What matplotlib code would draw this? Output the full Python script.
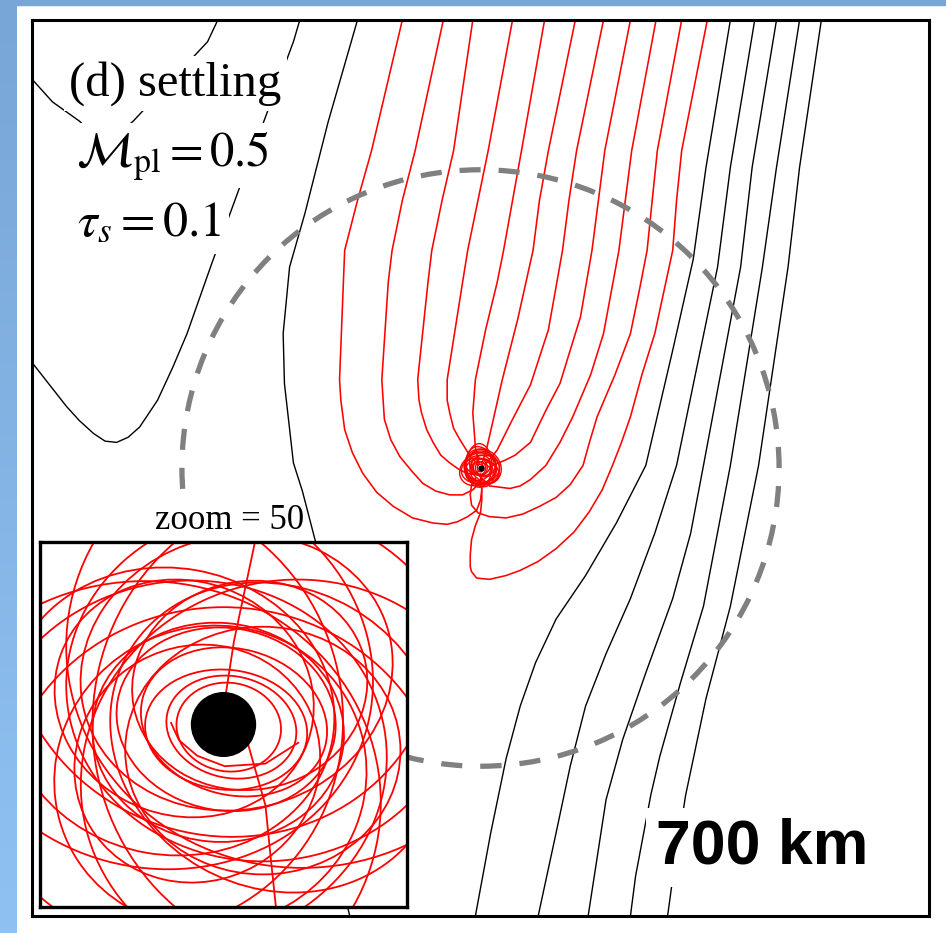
import matplotlib
matplotlib.use("Agg")
import matplotlib.pyplot as plt
import numpy as np
from matplotlib.patches import Circle, Ellipse, Rectangle

plt.rcParams['mathtext.fontset'] = 'stix'

# ---- streamlines, positions in km relative to the planet ----
# black (non-accreted) streamlines
bl1_x = [195, 176, 166, 150, 129, 106, 82, 59, 43, 31, 20, 8, -4]
bl1_y = [350, 235, 163, 92, 2, -43, -84, -118, -152, -186, -227, -285, -350]
bl2_x = [214, 195, 185, 153, 136, 117, 98, 82, 70, 59, 45]
bl2_y = [350, 235, 157, 2, -51, -102, -145, -186, -233, -285, -350]
bl3_x = [231, 212, 203, 174, 164, 150, 129, 111, 98, 84]
bl3_y = [350, 235, 157, 2, -51, -102, -160, -212, -259, -350]
bl4_x = [249, 231, 220, 195, 174, 156, 140, 133, 121, 117]
bl4_y = [350, 235, 157, 2, -108, -168, -225, -255, -319, -350]
bl5_x = [266, 249, 240, 217, 195, 176, 160, 149, 146]
bl5_y = [350, 235, 157, 2, -108, -180, -256, -328, -350]
bld_x = [-96, -119, -137, -149, -154, -153, -146, -139, -125, -114, -107, -104, -102]
bld_y = [350, 270, 199, 157, 105, 66, 4, -18, -72, -181, -275, -342, -350]
blc_x = [-141, -146, -169, -210, -229, -240, -252, -266, -275, -284, -293, -302, -313,
         -323, -352]
blc_y = [350, 333, 271, 159, 105, 79, 53, 32, 24, 20, 21, 27, 37, 48, 85]
blb_x = [-205, -213, -271, -293, -313, -334, -352]
blb_y = [350, 333, 271, 252, 271, 286, 306]

# red (accreted) streamlines
r1_x = [-61, -85, -96, -106, -107, -110, -109, -106, -100, -92, -81, -68, -53, -37, -26,
        -18, -10, -3, 0, 1, 0]
r1_y = [350, 248, 209, 170, 145, 69, 53, 30, 12, -4, -19, -30, -39, -43, -44,
        -42, -38, -33, -25, -17, -5]
r2_x = [-29, -51, -61, -69, -72, -77, -76, -75, -70, -63, -54, -45, -35, -24, -14, -6, -1, 1]
r2_y = [350, 248, 209, 170, 145, 69, 53, 38, 22, 9, -2, -12, -18, -21, -21, -17, -12, -8]
r3_x = [-6, -21, -30, -38, -41, -49, -48, -46, -42, -37, -31, -24, -17, -11, -6, -2]
r3_y = [350, 248, 209, 170, 145, 69, 53, 43, 30, 20, 10, 4, -1, -4, -5, -3]
r4_x = [25, 6, -2, -10, -14, -26, -26, -24, -21, -16, -11, -8, -4, -2]
r4_y = [350, 248, 209, 170, 145, 69, 53, 43, 31, 22, 14, 9, 5, 2]
r5_x = [50, 32, 25, 18, 13, 4, -4, -6, -5, -4, -1]
r5_y = [350, 248, 209, 170, 145, 108, 69, 43, 30, 16, 3]
r6_x = [74, 53, 46, 41, 29, 17, 10, 5, 1]
r6_y = [350, 248, 209, 170, 116, 69, 38, 16, 3]
r7_x = [96, 75, 69, 64, 53, 39, 25, 13, 4]
r7_y = [350, 248, 209, 170, 108, 65, 38, 14, 3]
r8_x = [117, 97, 92, 87, 78, 62, 51, 39, 27, 19, 7]
r8_y = [350, 248, 209, 170, 118, 66, 45, 20, 10, 6, 1]
r9_x = [137, 118, 113, 108, 96, 86, 72, 62, 51, 39, 31, 23, 7, -2]
r9_y = [350, 248, 209, 170, 105, 73, 40, 20, 2, -9, -14, -16, -14, -5]
r10_x = [157, 138, 134, 130, 124, 117, 105, 91, 85, 80, 70, 59, 46, 33, 20, 7, -2, -7,
         -8, -7, -4]
r10_y = [350, 248, 209, 170, 139, 105, 73, 40, 20, 2, -13, -23, -30, -36, -39, -38, -35,
         -29, -21, -13, -8]
r11_x = [177, 157, 153, 150, 136, 126, 117, 110, 103, 95, 85, 73, 59, 45, 31, 20, 7, -3,
         -7, -8, -8, -7, -4, 0, 1, 1, 0]
r11_y = [350, 248, 209, 170, 105, 73, 40, 20, 2, -17, -34, -50, -63, -73, -80, -84, -87,
         -86, -81, -77, -68, -56, -45, -35, -25, -17, -5]

# small orbits tangled around the planet (main panel, km)
blob_cx = [0, 1, -1, 2, 0, 0, -1, 1, 0, 1, -2, 2, 0, -1, 1, 0]
blob_cy = [1, 0, 2, 1, -1, 0, 1, -2, 0, 1, -1, 2, 3, -3, -1, 0]
blob_w = [22, 28, 20, 26, 30, 16, 12, 18, 8, 14, 24, 20, 18, 22, 10, 5]
blob_h = [32, 26, 34, 30, 22, 20, 14, 28, 10, 12, 30, 26, 24, 20, 16, 6]
blob_ang = [15, -30, 0, 50, 10, -20, 30, 70, 0, 40, -60, 25, 80, -10, 60, 0]

hill_radius = 233

# zoomed view (zoom = 50), km relative to the planet
zin_cx = [0.2, 0.3, 0.1, 0.4, 0.1, -0.2,
          1.0, -1.5, -1.0, 1.5, 0.5, -2.0, -0.5, 2.0,
          1.5, -1.5, 2.5, -2.5, -3.0, 3.0, 0.0, 3.5, -3.5, 0.0]
zin_cy = [-0.1, -0.1, -0.2, 0.1, 0.2, -0.3,
          1.5, 1.0, -1.5, -1.0, 2.0, 0.5, -2.0, -0.5,
          1.5, -1.5, -2.0, 2.0, -3.0, 3.0, -3.5, 0.0, 0.5, 3.5]
zin_w = [4.0, 5.0, 6.2, 7.2, 8.4, 9.6,
         9.0, 10.0, 9.5, 10.5, 12.0, 12.5, 12.0, 13.0,
         15.0, 15.5, 16.0, 16.5, 18.0, 18.0, 17.0, 17.0, 16.0, 16.5]
zin_h = [3.4, 3.9, 4.6, 5.6, 7.0, 8.4,
         8.0, 9.0, 9.0, 9.5, 10.5, 11.0, 11.5, 11.5,
         13.5, 14.0, 15.0, 15.0, 17.0, 17.0, 16.0, 18.0, 17.0, 15.5]
zin_ang = [-8, -12, -6, -15, -10, -5,
           10, -20, 30, 0, 15, -10, 25, -30,
           0, 10, 20, -15, 0, 0, 0, 0, 20, -20]
zin_in_u = [0.1, 0.4, 0.8, 1.2]
zin_in_v = [1.25, 3.2, 5.1, 7.0]
zin_out_u = [0.95, 1.6, 1.8, 2.0]
zin_out_v = [-0.8, -3.1, -5.1, -7.0]
zin_sp_u = [-2.0, -1.7, -1.0, 0.05, 1.6, 2.85]
zin_sp_v = [0.06, -0.6, -1.2, -1.6, -1.5, -0.7]
planet_radius = 1.22

black_lines = [(bl1_x, bl1_y), (bl2_x, bl2_y), (bl3_x, bl3_y), (bl4_x, bl4_y),
               (bl5_x, bl5_y), (bld_x, bld_y), (blc_x, blc_y), (blb_x, blb_y)]
red_lines = [(r1_x, r1_y), (r2_x, r2_y), (r3_x, r3_y), (r4_x, r4_y), (r5_x, r5_y),
             (r6_x, r6_y), (r7_x, r7_y), (r8_x, r8_y), (r9_x, r9_y),
             (r10_x, r10_y), (r11_x, r11_y)]

W, H = 946, 933
fig = plt.figure(figsize=(W / 100, H / 100), dpi=100)
fig.patch.set_facecolor('white')

# slide background: blue strips
bg = fig.add_axes([0, 0, 16 / W, 1])
grad = np.linspace(0, 1, 256).reshape(-1, 1)
top_c = np.array([120, 166, 214]) / 255
bot_c = np.array([143, 194, 243]) / 255
bg.imshow(top_c + grad[:, :, None] * (bot_c - top_c), aspect='auto')
bg.set_axis_off()
fig.patches.append(Rectangle((0, 1 - 5 / H), 1, 5 / H, transform=fig.transFigure,
                             color=top_c, zorder=0))

# main panel
ax = fig.add_axes([32 / W, 17 / H, 897 / W, 896 / H])
ax.set_xlim(-350, 350)
ax.set_ylim(-350, 350)
ax.set_xticks([])
ax.set_yticks([])
for s in ax.spines.values():
    s.set_linewidth(2.2)

for x, y in black_lines:
    ax.plot(x, y, color='black', lw=1.0, solid_joinstyle='round', zorder=2)
for x, y in red_lines:
    ax.plot(x, y, color='red', lw=1.15, solid_joinstyle='round', zorder=2)
for cx, cy, w, h, a in zip(blob_cx, blob_cy, blob_w, blob_h, blob_ang):
    ax.add_patch(Ellipse((cx, cy), w, h, angle=a, fill=False, ec='red', lw=1.0, zorder=2))
ax.plot([0], [0], 'o', color='black', ms=3.5, zorder=3)

ax.add_patch(Circle((0, 0), hill_radius, fill=False, ec='#808080', lw=3.8,
                    ls=(0, (4.0, 3.4)), zorder=3))

box = dict(facecolor='white', edgecolor='none', pad=4)
ax.text(-321, 291, '(d) settling', family='Liberation Serif', fontsize=35,
        va='baseline', ha='left', bbox=box, zorder=5)
ax.text(-316, 236, r'$\mathcal{M}_{\rm pl} = 0.5$', fontsize=35,
        va='baseline', ha='left', bbox=box, zorder=5)
ax.text(-315, 182, r'$\tau_s = 0.1$', fontsize=36,
        va='baseline', ha='left', bbox=dict(facecolor='white', edgecolor='none', pad=6),
        zorder=5)
ax.text(-196, -48, 'zoom = 50', family='Liberation Serif', fontsize=25,
        va='baseline', ha='center', bbox=dict(facecolor='white', edgecolor='none', pad=1),
        zorder=5)
ax.text(137, -309, '700 km', family='Liberation Sans', fontweight='bold', fontsize=45,
        va='baseline', ha='left', bbox=dict(facecolor='white', edgecolor='none', pad=7),
        zorder=6)

# zoomed inset
axin = fig.add_axes([40 / W, 26 / H, 367 / W, 365 / H])
axin.set_zorder(5)
axin.set_facecolor('white')
axin.set_xlim(-7, 7)
axin.set_ylim(-7, 7)
axin.set_xticks([])
axin.set_yticks([])
for s in axin.spines.values():
    s.set_linewidth(2.4)
for cx, cy, w, h, a in zip(zin_cx, zin_cy, zin_w, zin_h, zin_ang):
    axin.add_patch(Ellipse((cx, cy), w, h, angle=a, fill=False, ec='red', lw=1.3))
axin.plot(zin_in_u, zin_in_v, color='red', lw=1.3)
axin.plot(zin_out_u, zin_out_v, color='red', lw=1.3)
axin.plot(zin_sp_u, zin_sp_v, color='red', lw=1.3)
axin.add_patch(Circle((0, 0), planet_radius, color='black', zorder=4))

fig.savefig('out.png', dpi=100)
